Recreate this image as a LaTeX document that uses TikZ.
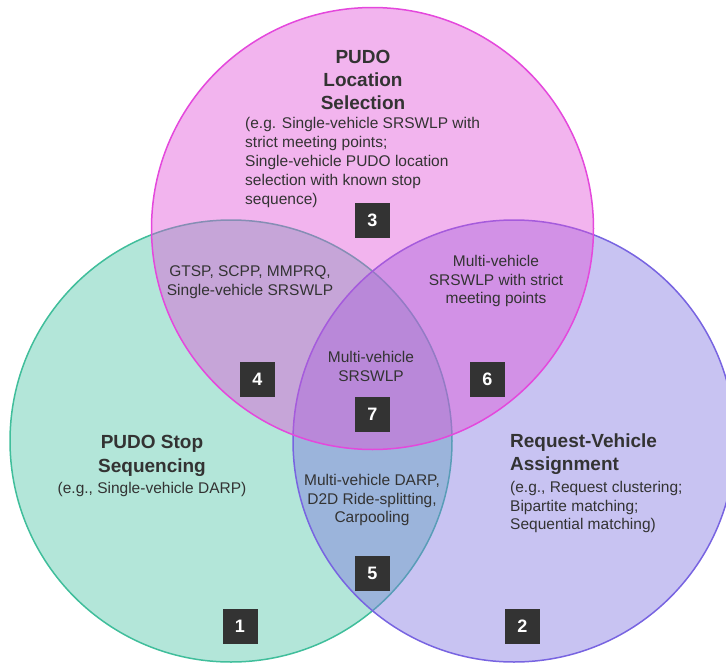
\documentclass[tikz,border=0pt]{standalone}
\usepackage{fontspec}
\setmainfont{Liberation Sans}
\usepackage{xcolor}

\definecolor{verde}{RGB}{179,230,217}
\definecolor{lila}{RGB}{124,112,224}
\definecolor{rosa}{RGB}{225,80,215}
\definecolor{bordeverde}{RGB}{64,190,155}
\definecolor{bordelila}{RGB}{120,100,225}
\definecolor{borderosa}{RGB}{228,72,220}
\definecolor{texto}{RGB}{51,51,51}
\definecolor{fondocaja}{RGB}{51,51,51}

\begin{document}
\begin{tikzpicture}[x=1pt, y=-1pt,
    cuerpo/.style={font=\fontsize{15.5}{18.8}\selectfont, text=texto, inner sep=0pt},
    titulo/.style={font=\fontsize{19}{23.3}\selectfont\bfseries, text=texto, inner sep=0pt},
    caja/.style={fill=fondocaja, text=white, font=\fontsize{18}{18}\selectfont\bfseries,
                 minimum size=35pt, inner sep=0pt}]
        % Marco de la figura
        \clip (0, 0) rectangle (726, 664);

        % Círculos
        \draw[line width=1.5pt, draw=bordeverde, fill=verde] (231, 441) circle (221pt);
        \draw[line width=1.5pt, draw=bordelila, fill=lila, fill opacity=0.42] (514, 441) circle (221pt);
        \draw[line width=1.5pt, draw=borderosa, fill=rosa, fill opacity=0.43] (372.5, 228.5) circle (221pt);

        % Región 3
        \node[titulo, align=center] (tit3) at (363, 80) {PUDO\\Location\\Selection};
        \node[cuerpo, align=left, anchor=west] (txt3) at (245, 162.5)
            {(e.g. Single-vehicle SRSWLP with\\strict meeting points;\\Single-vehicle PUDO location\\selection with known stop\\sequence)};

        % Región 1
        \node[titulo, align=center] (tit1) at (152, 456) {PUDO Stop\\Sequencing};
        \node[cuerpo] (txt1) at (152, 489.5) {(e.g., Single-vehicle DARP)};

        % Región 2
        \node[titulo, align=left, anchor=west] (tit2) at (510, 454) {Request-Vehicle\\Assignment};
        \node[cuerpo, align=left, anchor=west] (txt2) at (510, 507)
            {(e.g., Request clustering;\\Bipartite matching;\\Sequential matching)};

        % Intersecciones
        \node[cuerpo, align=center] (txt4) at (250, 282.5) {GTSP, SCPP, MMPRQ,\\Single-vehicle SRSWLP};
        \node[cuerpo, align=center] (txt6) at (496, 281) {Multi-vehicle\\SRSWLP with strict\\meeting points};
        \node[cuerpo, align=center] (txt7) at (371, 366.5) {Multi-vehicle\\SRSWLP};
        \node[cuerpo, align=center] (txt5) at (372, 500) {Multi-vehicle DARP,\\D2D Ride-splitting,\\Carpooling};

        % Números
        \node[caja] (n1) at (240, 626.5) {1};
        \node[caja] (n2) at (522.5, 626.5) {2};
        \node[caja] (n3) at (372.5, 220.5) {3};
        \node[caja] (n4) at (257.5, 379.5) {4};
        \node[caja] (n5) at (372.5, 573.5) {5};
        \node[caja] (n6) at (487.5, 379.5) {6};
        \node[caja] (n7) at (372.5, 414) {7};
    \end{tikzpicture}
\end{document}
